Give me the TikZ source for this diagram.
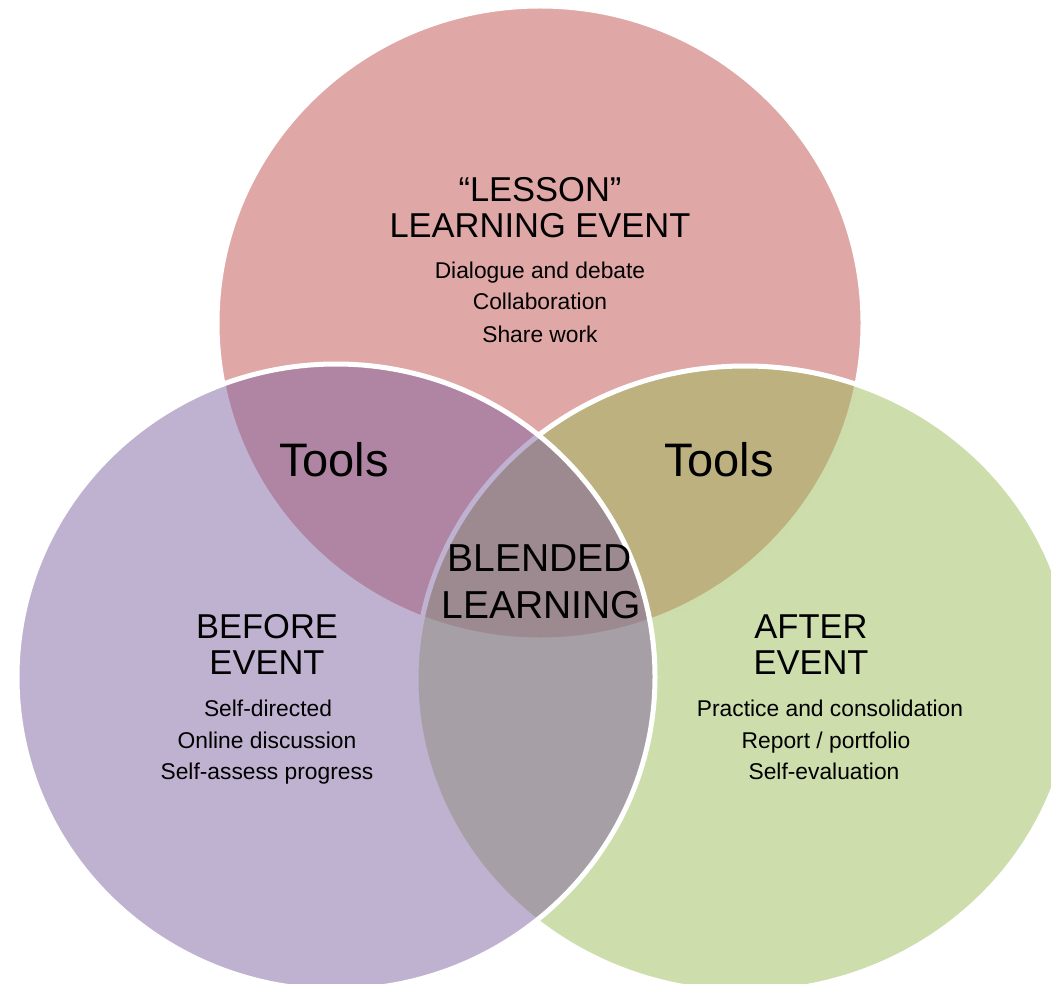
\documentclass[tikz,border=0pt]{standalone}
\usepackage{fontspec}
\setmainfont{Liberation Sans}
\usetikzlibrary{shapes.geometric}
\definecolor{vred}{HTML}{C0504D}
\definecolor{vgreen}{HTML}{9BBB59}
\definecolor{vpurple}{HTML}{8064A2}
\begin{document}
\begin{tikzpicture}[x=1pt,y=-1pt,
  setshape/.style={ellipse, fill opacity=0.5, draw=white, draw opacity=1, line width=5pt, inner sep=0pt, outer sep=0pt},
  toolstxt/.style={font=\fontsize{47}{56}\selectfont, anchor=base, inner sep=0pt},
  headtxt/.style={font=\fontsize{34.5}{41}\selectfont, anchor=base, inner sep=0pt},
  midtxt/.style={font=\fontsize{39}{47}\selectfont, anchor=base, inner sep=0pt},
  itemtxt/.style={font=\fontsize{22.8}{27}\selectfont, anchor=base, inner sep=0pt}]
\useasboundingbox (0,0) rectangle (1051,984);
\clip (0,0) rectangle (1051,984);
% circles
\node[setshape, fill=vred, minimum width=646pt, minimum height=634pt] (lesson) at (540,323) {};
\node[setshape, fill=vgreen, minimum width=658pt, minimum height=626pt] (after) at (745,679) {};
\node[setshape, fill=vpurple, minimum width=638pt, minimum height=626pt] (before) at (336,677) {};
% top texts
\node[headtxt] (l1) at (540,202) {“LESSON”};
\node[headtxt] (l2) at (540,237) {LEARNING EVENT};
\node[itemtxt] (l3) at (540,278) {Dialogue and debate};
\node[itemtxt] (l4) at (540,309) {Collaboration};
\node[itemtxt] (l5) at (540,342) {Share work};
% tools
\node[toolstxt] (t1) at (334,476) {Tools};
\node[toolstxt] (t2) at (719,476) {Tools};
% centre
\node[midtxt] (m1) at (540,571) {BLENDED};
\node[midtxt] (m2) at (541,618) {LEARNING};
% before
\node[headtxt] (b1) at (267,638) {BEFORE};
\node[headtxt] (b2) at (267,674) {EVENT};
\node[itemtxt] (b3) at (268,716) {Self-directed};
\node[itemtxt] (b4) at (267,748) {Online discussion};
\node[itemtxt] (b5) at (267,779) {Self-assess progress};
% after
\node[headtxt] (a1) at (811,638) {AFTER};
\node[headtxt] (a2) at (811,674) {EVENT};
\node[itemtxt] (a3) at (830,716) {Practice and consolidation};
\node[itemtxt] (a4) at (826,748) {Report / portfolio};
\node[itemtxt] (a5) at (824,779) {Self-evaluation};
\end{tikzpicture}
\end{document}
